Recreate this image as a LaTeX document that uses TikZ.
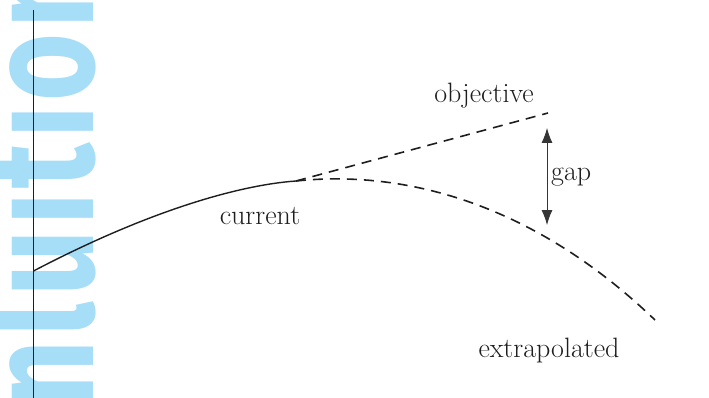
\documentclass[tikz,border=0pt]{standalone}
\usepackage{fontspec}
\newfontfamily\bigfont{Fira Sans}[LetterSpace=4]
\usetikzlibrary{arrows.meta}
\definecolor{bluebg}{RGB}{166,221,247}
\definecolor{ink}{RGB}{30,30,30}
\begin{document}
\begin{tikzpicture}[x=1pt,y=-1pt,
  lbl/.style={font=\fontsize{28}{34}\selectfont, text=ink, inner sep=0pt},
  dsh/.style={draw=ink, line width=1.6pt, dash pattern=on 10pt off 7pt},
  solidcurve/.style={draw=ink, line width=1.4pt},
  gaparrow/.style={draw=ink!90, line width=0.8pt, {Latex[length=15pt,width=11pt]}-{Latex[length=15pt,width=11pt]}}]
\useasboundingbox (0,0) rectangle (709,398);
\clip (0,0) rectangle (709,398);
\node[rotate=90, anchor=base west, inner sep=0pt, text=bluebg,
  font=\bigfont\bfseries\fontsize{153}{153}\selectfont] (bg) at (93,408) {\scalebox{0.76}[1]{nluition}};
\coordinate (axtop) at (33.5,10);
\coordinate (axbot) at (33.5,398);
\draw[ink, line width=0.9pt] (axtop) -- (axbot);
\coordinate (start) at (33.5,271);
\coordinate (cur) at (296,181);
\coordinate (obj) at (548,113);
\coordinate (ext) at (655,320);
\coordinate (gtop) at (547,128);
\coordinate (gbot) at (547,225);
\draw[solidcurve] (start) .. controls (150,210) and (240,185) .. (cur);
\draw[dsh] (cur) -- (obj);
\draw[dsh] (cur) .. controls (400,170) and (530,200) .. (ext);
\draw[gaparrow] (gtop) -- (gbot);
\node[lbl, anchor=base] (lcur) at (260,224) {current};
\node[lbl, anchor=base] (lobj) at (484,103) {objective};
\node[lbl, anchor=base] (lext) at (549,357) {extrapolated};
\node[lbl, anchor=base west] (lgap) at (551,181) {gap};
\end{tikzpicture}
\end{document}
